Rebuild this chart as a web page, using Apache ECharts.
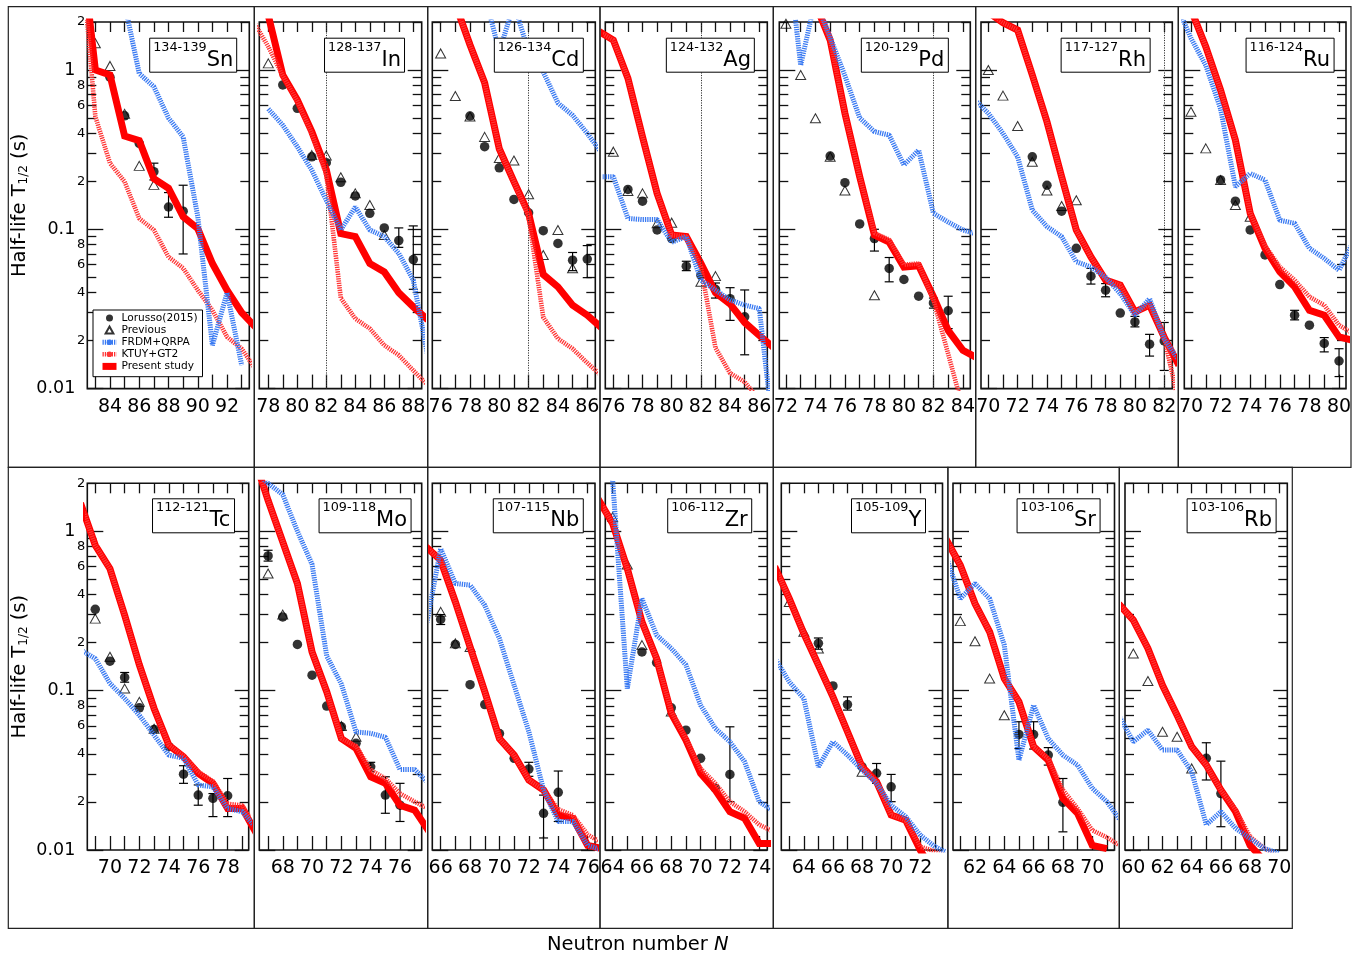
<!DOCTYPE html>
<html><head><meta charset="utf-8">
<script src="https://cdn.jsdelivr.net/npm/echarts@6/dist/echarts.min.js"></script>
<style>html,body{margin:0;padding:0;background:#fff}#c{width:1365px;height:958px}</style>
</head><body><div id="c"></div>
<script>
// ---------------- DATA ----------------
const NAME_LOR = 'Lorusso(2015)', NAME_PREV = 'Previous', NAME_FRDM = 'FRDM+QRPA', NAME_KTUY = 'KTUY+GT2', NAME_PRES = 'Present study';

// y-axis tick values (s)
const yMajorTicks = [0.01, 0.1, 1];
const yMinorTicks = [0.02,0.03,0.04,0.05,0.06,0.07,0.08,0.09,0.2,0.3,0.4,0.5,0.6,0.7,0.8,0.9,2];
const yLabelValues = [0.01,0.02,0.04,0.06,0.08,0.1,0.2,0.4,0.6,0.8,1,2];

// x tick labels per panel
const snLabels = [84,86,88,90,92];
const inLabels = [78,80,82,84,86,88];
const cdLabels = [76,78,80,82,84,86];
const agLabels = [76,78,80,82,84,86];
const pdLabels = [72,74,76,78,80,82,84];
const rhLabels = [70,72,74,76,78,80,82];
const ruLabels = [70,72,74,76,78,80];
const tcLabels = [70,72,74,76,78];
const moLabels = [68,70,72,74,76];
const nbLabels = [66,68,70,72,74,76];
const zrLabels = [64,66,68,70,72,74];
const yLabels = [64,66,68,70,72];
const srLabels = [62,64,66,68,70];
const rbLabels = [60,62,64,66,68,70];

// Sn
const snLorusso = [[84,0.90],[85,0.515],[86,0.346],[87,0.23],[88,0.138],[89,0.13]];
const snErr = [[87,0.204,0.26],[88,0.119,0.17],[89,0.07,0.189]];
const snPrevious = [[83,1.47],[84,1.06],[85,0.53],[86,0.25],[87,0.19]];
const snFRDM = [[84,5],[85,2.6],[86,0.95],[87,0.785],[88,0.50],[89,0.38],[90,0.12],[91,0.0187],[92,0.040],[93,0.014]];
const snKTUY = [[82,6],[83,0.51],[84,0.26],[85,0.199],[86,0.117],[87,0.099],[88,0.067],[89,0.057],[90,0.0415],[91,0.031],[92,0.0211],[93,0.0178],[94,0.013]];
const snPresent = [[82,6.5],[83,1.0],[84,0.93],[85,0.385],[86,0.36],[87,0.208],[88,0.181],[89,0.12],[90,0.101],[91,0.061],[92,0.0415],[93,0.03],[94,0.024]];
// In
const inLorusso = [[79,0.805],[80,0.574],[81,0.285],[82,0.262],[83,0.197],[84,0.162],[85,0.126],[86,0.102],[87,0.085],[88,0.0645]];
const inErr = [[87,0.077,0.102],[88,0.042,0.105]];
const inPrevious = [[78,1.1],[81,0.292],[82,0.29],[83,0.212],[84,0.168],[85,0.142],[86,0.092]];
const inFRDM = [[78,0.57],[79,0.45],[80,0.33],[81,0.235],[82,0.152],[83,0.099],[84,0.138],[85,0.099],[86,0.090],[87,0.0705],[88,0.048],[89,0.016]];
const inKTUY = [[77,2.0],[78,1.40],[79,0.92],[80,0.64],[81,0.40],[82,0.22],[83,0.037],[84,0.0275],[85,0.0238],[86,0.0187],[87,0.0162],[88,0.013],[89,0.0105]];
const inPresent = [[77,4],[78,2.2],[79,0.93],[80,0.65],[81,0.41],[82,0.236],[83,0.094],[84,0.09],[85,0.061],[86,0.054],[87,0.040],[88,0.0326],[89,0.027]];
// Cd
const cdLorusso = [[78,0.514],[79,0.33],[80,0.243],[81,0.154],[82,0.127],[83,0.098],[84,0.0815],[85,0.064],[86,0.065]];
const cdErr = [[85,0.055,0.0715],[86,0.0497,0.079]];
const cdPrevious = [[76,1.27],[77,0.687],[78,0.51],[79,0.38],[80,0.28],[81,0.27],[82,0.166],[83,0.069],[84,0.099],[85,0.057]];
const cdFRDM = [[78,6],[79,3.0],[80,1.3],[81,2.6],[82,1.3],[83,0.97],[84,0.62],[85,0.52],[86,0.40],[87,0.30]];
const cdKTUY = [[77,2.6],[78,1.44],[79,0.83],[80,0.32],[81,0.199],[82,0.12],[83,0.028],[84,0.0206],[85,0.0178],[86,0.0145],[87,0.012]];
const cdPresent = [[77,2.6],[78,1.44],[79,0.83],[80,0.32],[81,0.199],[82,0.126],[83,0.052],[84,0.0435],[85,0.0334],[86,0.0289],[87,0.024]];
// Ag
const agLorusso = [[77,0.178],[78,0.150],[79,0.099],[80,0.0875],[81,0.0587],[82,0.0515],[83,0.042],[84,0.0367],[85,0.0282]];
const agErr = [[81,0.055,0.063],[83,0.037,0.046],[84,0.0268,0.043],[85,0.0163,0.0416]];
const agPrevious = [[76,0.307],[77,0.174],[78,0.168],[79,0.109],[80,0.11],[82,0.0468],[83,0.0508]];
const agFRDM = [[75,0.214],[76,0.214],[77,0.117],[78,0.115],[79,0.115],[80,0.083],[81,0.09],[82,0.048],[83,0.0415],[84,0.036],[85,0.0334],[86,0.0318],[87,0.005]];
const agKTUY = [[75,1.75],[76,1.54],[77,0.887],[78,0.38],[79,0.168],[80,0.092],[81,0.09],[82,0.058],[83,0.018],[84,0.0125],[85,0.011],[86,0.0085]];
const agPresent = [[75,1.75],[76,1.54],[77,0.887],[78,0.38],[79,0.168],[80,0.092],[81,0.09],[82,0.061],[83,0.040],[84,0.034],[85,0.026],[86,0.0216],[87,0.018]];
// Pd
const pdLorusso = [[75,0.288],[76,0.196],[77,0.108],[78,0.0875],[79,0.0568],[80,0.0484],[81,0.038],[82,0.0345],[83,0.0308]];
const pdErr = [[78,0.073,0.10],[79,0.0468,0.0665],[82,0.032,0.037],[83,0.0238,0.038]];
const pdPrevious = [[72,1.95],[73,0.93],[74,0.497],[75,0.285],[76,0.175],[78,0.0385]];
const pdFRDM = [[72,7],[73,1.07],[74,2.8],[75,1.6],[76,0.92],[77,0.50],[78,0.41],[79,0.39],[80,0.253],[81,0.314],[82,0.126],[83,0.111],[84,0.099],[85,0.093]];
const pdKTUY = [[74,2.6],[75,1.54],[76,0.535],[77,0.214],[78,0.095],[79,0.086],[80,0.06],[81,0.061],[82,0.036],[83,0.0165],[84,0.0075]];
const pdPresent = [[74,2.6],[75,1.54],[76,0.535],[77,0.214],[78,0.092],[79,0.083],[80,0.058],[81,0.059],[82,0.0377],[83,0.0232],[84,0.0174],[85,0.0155]];
// Rh
const rhLorusso = [[73,0.285],[74,0.189],[75,0.13],[76,0.076],[77,0.0508],[78,0.0415],[79,0.0298],[80,0.0262],[81,0.019],[82,0.0199]];
const rhErr = [[77,0.0453,0.0568],[78,0.0377,0.0456],[80,0.0244,0.0284],[81,0.016,0.0219],[82,0.013,0.026]];
const rhPrevious = [[70,1.0],[71,0.69],[72,0.445],[73,0.265],[74,0.175],[75,0.14],[76,0.152]];
const rhFRDM = [[69,0.66],[70,0.535],[71,0.40],[72,0.285],[73,0.132],[74,0.104],[75,0.09],[76,0.0625],[77,0.058],[78,0.050],[79,0.0395],[80,0.0289],[81,0.0367],[82,0.0205],[83,0.015]];
const rhKTUY = [[70,2.3],[71,1.98],[72,1.78],[73,0.93],[74,0.473],[75,0.214],[76,0.099],[77,0.067],[78,0.048],[79,0.0446],[80,0.0303],[81,0.0334],[82,0.021],[83,0.008]];
const rhPresent = [[70,2.3],[71,1.98],[72,1.78],[73,0.93],[74,0.473],[75,0.214],[76,0.099],[77,0.067],[78,0.048],[79,0.0446],[80,0.0303],[81,0.0334],[82,0.021],[83,0.014]];
// Ru
const ruLorusso = [[72,0.204],[73,0.150],[74,0.099],[75,0.069],[76,0.045],[77,0.0289],[78,0.025],[79,0.0192],[80,0.0149]];
const ruErr = [[77,0.027,0.031],[79,0.017,0.0209],[80,0.0119,0.0178]];
const ruPrevious = [[70,0.547],[71,0.322],[72,0.204],[73,0.142],[74,0.12]];
const ruFRDM = [[69,2.6],[70,1.58],[71,1.07],[72,0.57],[73,0.185],[74,0.224],[75,0.204],[76,0.114],[77,0.109],[78,0.076],[79,0.0656],[80,0.0553],[81,0.085]];
const ruKTUY = [[70,2.4],[71,1.40],[72,0.748],[73,0.363],[74,0.126],[75,0.079],[76,0.058],[77,0.048],[78,0.0377],[79,0.0334],[80,0.025],[81,0.022]];
const ruPresent = [[70,2.4],[71,1.40],[72,0.748],[73,0.363],[74,0.126],[75,0.076],[76,0.054],[77,0.0435],[78,0.031],[79,0.0289],[80,0.0211],[81,0.020]];
// Tc
const tcLorusso = [[69,0.324],[70,0.153],[71,0.121],[72,0.078],[73,0.0571],[74,0.0445],[75,0.0299],[76,0.0221],[77,0.0211],[78,0.0219]];
const tcErr = [[71,0.113,0.13],[75,0.0262,0.0338],[76,0.0191,0.0256],[77,0.0162,0.0226],[78,0.0162,0.0281]];
const tcPrevious = [[69,0.283],[70,0.163],[71,0.103],[72,0.085],[73,0.0577]];
const tcFRDM = [[68,0.18],[69,0.159],[70,0.111],[71,0.0893],[72,0.070],[73,0.0526],[74,0.0394],[75,0.0376],[76,0.0256],[77,0.0249],[78,0.0182],[79,0.0174],[80,0.0135]];
const tcKTUY = [[68,1.5],[69,0.817],[70,0.583],[71,0.297],[72,0.145],[73,0.0773],[74,0.0455],[75,0.039],[76,0.031],[77,0.027],[78,0.0195],[79,0.019],[80,0.0135]];
const tcPresent = [[68,1.5],[69,0.817],[70,0.583],[71,0.297],[72,0.145],[73,0.0773],[74,0.0455],[75,0.0385],[76,0.0303],[77,0.0262],[78,0.0182],[79,0.0182],[80,0.0125]];
// Mo
const moLorusso = [[67,0.70],[68,0.29],[69,0.195],[70,0.125],[71,0.080],[72,0.0593],[73,0.0467],[74,0.0333],[75,0.0221],[76,0.0191]];
const moErr = [[67,0.65,0.76],[74,0.031,0.0355],[75,0.017,0.0288],[76,0.0151,0.0262]];
const moPrevious = [[67,0.543],[68,0.30],[72,0.06],[73,0.0514]];
const moFRDM = [[66,2.4],[67,2.0],[68,1.7],[69,1.0],[70,0.62],[71,0.165],[72,0.11],[73,0.055],[74,0.054],[75,0.051],[76,0.032],[77,0.032],[78,0.026]];
const moKTUY = [[66,3.0],[67,1.56],[68,0.857],[69,0.47],[70,0.175],[71,0.0985],[72,0.050],[73,0.045],[74,0.0318],[75,0.0281],[76,0.0226],[77,0.0201],[78,0.018]];
const moPresent = [[66,3.0],[67,1.56],[68,0.857],[69,0.47],[70,0.175],[71,0.0985],[72,0.050],[73,0.0434],[74,0.0288],[75,0.0262],[76,0.0191],[77,0.0178],[78,0.013]];
// Nb
const nbLorusso = [[66,0.28],[67,0.195],[68,0.109],[69,0.0818],[70,0.0538],[71,0.0376],[72,0.0322],[73,0.017],[74,0.023]];
const nbErr = [[66,0.26,0.30],[72,0.029,0.0355],[73,0.0119,0.0221],[74,0.0151,0.0313]];
const nbPrevious = [[66,0.312],[67,0.198],[68,0.188]];
const nbFRDM = [[65,0.25],[66,0.778],[67,0.47],[68,0.46],[69,0.343],[70,0.212],[71,0.108],[72,0.0552],[73,0.0238],[74,0.0151],[75,0.0151],[76,0.0107],[77,0.01]];
const nbKTUY = [[65,0.80],[66,0.658],[67,0.36],[68,0.188],[69,0.0985],[70,0.050],[71,0.0394],[72,0.0275],[73,0.0238],[74,0.018],[75,0.0165],[76,0.0125],[77,0.011]];
const nbPresent = [[65,0.80],[66,0.658],[67,0.36],[68,0.188],[69,0.0985],[70,0.050],[71,0.0394],[72,0.0275],[73,0.0238],[74,0.0166],[75,0.0158],[76,0.0107],[77,0.0102]];
// Zr
const zrLorusso = [[66,0.175],[67,0.150],[68,0.078],[69,0.0565],[70,0.0376],[71,0.0244],[72,0.0298]];
const zrErr = [[72,0.0201,0.0593]];
const zrPrevious = [[64,1.23],[65,0.618],[66,0.193],[68,0.074]];
const zrFRDM = [[63,3],[64,2.1],[65,0.103],[66,0.378],[67,0.223],[68,0.184],[69,0.145],[70,0.081],[71,0.058],[72,0.0478],[73,0.0358],[74,0.0201],[75,0.0175]];
const zrKTUY = [[63,1.6],[64,1.12],[65,0.583],[66,0.27],[67,0.159],[68,0.074],[69,0.05],[70,0.0325],[71,0.0262],[72,0.0201],[73,0.0174],[74,0.0144],[75,0.013]];
const zrPresent = [[63,1.6],[64,1.12],[65,0.583],[66,0.27],[67,0.159],[68,0.072],[69,0.049],[70,0.0303],[71,0.0238],[72,0.0174],[73,0.0158],[74,0.011],[75,0.011]];
// Y
const yLorusso = [[65,0.198],[66,0.107],[67,0.0818],[68,0.0333],[69,0.0303],[70,0.0249]];
const yErr = [[65,0.182,0.214],[67,0.0755,0.0914],[69,0.0262,0.0349],[70,0.0201,0.0298]];
const yPrevious = [[63,0.36],[64,0.234],[65,0.184],[68,0.031]];
const yFRDM = [[62,0.16],[63,0.1135],[64,0.0893],[65,0.0333],[66,0.0478],[67,0.0394],[68,0.0318],[69,0.0262],[70,0.0191],[71,0.0162],[72,0.0124],[73,0.0105],[74,0.0095]];
const yKTUY = [[62,0.6],[63,0.378],[64,0.228],[65,0.145],[66,0.0914],[67,0.0552],[68,0.0333],[69,0.0268],[70,0.0166],[71,0.0154],[72,0.0105],[73,0.0098],[74,0.009]];
const yPresent = [[62,0.6],[63,0.378],[64,0.228],[65,0.145],[66,0.0914],[67,0.0552],[68,0.0333],[69,0.0268],[70,0.0166],[71,0.0154],[72,0.0100],[73,0.007]];
// Sr
const srLorusso = [[65,0.0531],[66,0.053],[67,0.0394],[68,0.0199]];
const srErr = [[65,0.0433,0.0638],[66,0.043,0.0638],[67,0.0341,0.0439],[68,0.013,0.0281]];
const srPrevious = [[61,0.273],[62,0.204],[63,0.119],[64,0.070]];
const srFRDM = [[60,0.71],[61,0.378],[62,0.47],[63,0.378],[64,0.193],[65,0.0366],[66,0.081],[67,0.050],[68,0.0394],[69,0.0341],[70,0.0244],[71,0.0201],[72,0.015]];
const srKTUY = [[60,0.9],[61,0.612],[62,0.352],[63,0.234],[64,0.119],[65,0.0851],[66,0.0445],[67,0.0375],[68,0.0238],[69,0.0182],[70,0.0133],[71,0.012],[72,0.0105]];
const srPresent = [[60,0.9],[61,0.612],[62,0.352],[63,0.234],[64,0.119],[65,0.0851],[66,0.0445],[67,0.0366],[68,0.0211],[69,0.017],[70,0.0107],[71,0.0102]];
// Rb
const rbLorusso = [[65,0.0376],[66,0.0226]];
const rbErr = [[65,0.0275,0.0471],[66,0.014,0.0361]];
const rbPrevious = [[60,0.171],[61,0.115],[62,0.0552],[63,0.0514],[64,0.0325]];
const rbFRDM = [[59,0.07],[60,0.0478],[61,0.0565],[62,0.0424],[63,0.0424],[64,0.031],[65,0.0144],[66,0.0174],[67,0.0137],[68,0.0118],[69,0.0102],[70,0.0095]];
const rbKTUY = [[59,0.35],[60,0.277],[61,0.184],[62,0.108],[63,0.070],[64,0.0445],[65,0.0341],[66,0.0238],[67,0.018],[68,0.0121],[69,0.0102],[70,0.009]];
const rbPresent = [[59,0.35],[60,0.277],[61,0.184],[62,0.108],[63,0.070],[64,0.0445],[65,0.0341],[66,0.0238],[67,0.0174],[68,0.0107],[69,0.0085]];

const panels = [
  {iso:'134-139', el:'Sn', labels:snLabels, lor:snLorusso, err:snErr, prev:snPrevious, frdm:snFRDM, ktuy:snKTUY, pres:snPresent, n82:false},
  {iso:'128-137', el:'In', labels:inLabels, lor:inLorusso, err:inErr, prev:inPrevious, frdm:inFRDM, ktuy:inKTUY, pres:inPresent, n82:true},
  {iso:'126-134', el:'Cd', labels:cdLabels, lor:cdLorusso, err:cdErr, prev:cdPrevious, frdm:cdFRDM, ktuy:cdKTUY, pres:cdPresent, n82:true},
  {iso:'124-132', el:'Ag', labels:agLabels, lor:agLorusso, err:agErr, prev:agPrevious, frdm:agFRDM, ktuy:agKTUY, pres:agPresent, n82:true},
  {iso:'120-129', el:'Pd', labels:pdLabels, lor:pdLorusso, err:pdErr, prev:pdPrevious, frdm:pdFRDM, ktuy:pdKTUY, pres:pdPresent, n82:true},
  {iso:'117-127', el:'Rh', labels:rhLabels, lor:rhLorusso, err:rhErr, prev:rhPrevious, frdm:rhFRDM, ktuy:rhKTUY, pres:rhPresent, n82:true},
  {iso:'116-124', el:'Ru', labels:ruLabels, lor:ruLorusso, err:ruErr, prev:ruPrevious, frdm:ruFRDM, ktuy:ruKTUY, pres:ruPresent, n82:false},
  {iso:'112-121', el:'Tc', labels:tcLabels, lor:tcLorusso, err:tcErr, prev:tcPrevious, frdm:tcFRDM, ktuy:tcKTUY, pres:tcPresent, n82:false},
  {iso:'109-118', el:'Mo', labels:moLabels, lor:moLorusso, err:moErr, prev:moPrevious, frdm:moFRDM, ktuy:moKTUY, pres:moPresent, n82:false},
  {iso:'107-115', el:'Nb', labels:nbLabels, lor:nbLorusso, err:nbErr, prev:nbPrevious, frdm:nbFRDM, ktuy:nbKTUY, pres:nbPresent, n82:false},
  {iso:'106-112', el:'Zr', labels:zrLabels, lor:zrLorusso, err:zrErr, prev:zrPrevious, frdm:zrFRDM, ktuy:zrKTUY, pres:zrPresent, n82:false},
  {iso:'105-109', el:'Y',  labels:yLabels,  lor:yLorusso,  err:yErr,  prev:yPrevious,  frdm:yFRDM,  ktuy:yKTUY,  pres:yPresent,  n82:false},
  {iso:'103-106', el:'Sr', labels:srLabels, lor:srLorusso, err:srErr, prev:srPrevious, frdm:srFRDM, ktuy:srKTUY, pres:srPresent, n82:false},
  {iso:'103-106', el:'Rb', labels:rbLabels, lor:rbLorusso, err:rbErr, prev:rbPrevious, frdm:rbFRDM, ktuy:rbKTUY, pres:rbPresent, n82:false}
];

// ---------------- LAYOUT ----------------
const TOP1 = 22, H1 = 366.6, TOP2 = 483.3, H2 = 366.7;
const layout = [
  {left:87.3,  width:162.0, top:TOP1, height:H1, min:82.45, max:93.52, boxRight:237.3, boxTop:37.7, yName:true},
  {left:259.3, width:162.4, top:TOP1, height:H1, min:77.38, max:88.58, boxRight:405.0, boxTop:37.7},
  {left:432.3, width:163.0, top:TOP1, height:H1, min:75.43, max:86.55, boxRight:583.3, boxTop:37.7},
  {left:605.3, width:162.0, top:TOP1, height:H1, min:75.45, max:86.55, boxRight:755.0, boxTop:37.7},
  {left:779.3, width:191.0, top:TOP1, height:H1, min:71.55, max:84.50, boxRight:948.3, boxTop:37.7},
  {left:981.0, width:191.3, top:TOP1, height:H1, min:69.50, max:82.55, boxRight:1150.0, boxTop:37.7},
  {left:1184.3,width:161.7, top:TOP1, height:H1, min:69.55, max:80.47, boxRight:1334.0, boxTop:37.7},
  {left:87.3,  width:161.4, top:TOP2, height:H2, min:68.46, max:79.43, boxRight:234.3, boxTop:498.3, yName:true},
  {left:259.3, width:162.4, top:TOP2, height:H2, min:66.40, max:77.48, boxRight:411.0, boxTop:498.3},
  {left:432.3, width:162.7, top:TOP2, height:H2, min:65.43, max:76.50, boxRight:583.3, boxTop:498.3},
  {left:605.3, width:162.0, top:TOP2, height:H2, min:63.50, max:74.55, boxRight:751.7, boxTop:498.3},
  {left:781.3, width:161.2, top:TOP2, height:H2, min:62.45, max:73.53, boxRight:925.3, boxTop:498.3},
  {left:953.0, width:161.5, top:TOP2, height:H2, min:60.50, max:71.52, boxRight:1100.0, boxTop:498.3},
  {left:1125.0,width:162.3, top:TOP2, height:H2, min:59.43, max:70.55, boxRight:1276.0, boxTop:498.3}
];
const outerBoxes = [
  [8.3,6.7,246,460.6],[254.3,6.7,173.4,460.6],[427.7,6.7,172.3,460.6],[600,6.7,173.3,460.6],[773.3,6.7,202.4,460.6],[975.7,6.7,202.6,460.6],[1178.3,6.7,172.7,460.6],
  [8.3,467.3,246,461],[254.3,467.3,173.4,461],[427.7,467.3,172.3,461],[600,467.3,173.3,461],[773.3,467.3,174.6,461],[947.9,467.3,171.4,461],[1119.3,467.3,173,461]
];

const FONT = 'DejaVu Sans, Liberation Sans, Arial, sans-serif';
const TICK = {color:'#111', width:1.3};
const BLUE = '#3a7af2', PINK = '#ff3434', RED = '#ff0000';
const TRI_ICON = 'path://M5,0L10,9L0,9Z';

function range(a, b){ const r=[]; for(let v=a; v<=b; v++) r.push(v); return r; }
function yFmt(v){
  const e = Math.floor(Math.log10(v) + 1e-9);
  const m = Math.round(v / Math.pow(10, e));
  if (m === 1) return '{big|' + (e === 0 ? '1' : (e === -1 ? '0.1' : '0.01')) + '}';
  return '{small|' + m + '}';
}
function errItem(params, api){
  const x = api.value(0);
  const lo = api.coord([x, api.value(1)]);
  const hi = api.coord([x, api.value(2)]);
  const w = 4.5, st = {stroke:'#000', lineWidth:1.2};
  return {type:'group', children:[
    {type:'line', shape:{x1:lo[0], y1:lo[1], x2:hi[0], y2:hi[1]}, style:st},
    {type:'line', shape:{x1:lo[0]-w, y1:lo[1], x2:lo[0]+w, y2:lo[1]}, style:st},
    {type:'line', shape:{x1:hi[0]-w, y1:hi[1], x2:hi[0]+w, y2:hi[1]}, style:st}
  ]};
}

const option = {
  animation:false, backgroundColor:'#fff',
  grid:[], xAxis:[], yAxis:[], series:[], title:[],
  legend:{
    left:93, top:310, orient:'vertical', z:10, selectedMode:false, symbolKeepAspect:true,
    itemWidth:14, itemHeight:7, itemGap:0.1, padding:[2,5,4.3,6],
    borderColor:'#000', borderWidth:1, backgroundColor:'#fff',
    textStyle:{fontFamily:FONT, fontSize:10.6, color:'#000', lineHeight:12, fontWeight:'normal'},
    lineStyle:{width:'inherit'},
    data:[NAME_LOR, {name:NAME_PREV, icon:TRI_ICON}, NAME_FRDM, NAME_KTUY, NAME_PRES]
  },
  graphic:{elements: outerBoxes.map(b => ({type:'rect', silent:true, z:0,
    shape:{x:b[0], y:b[1], width:b[2], height:b[3]}, style:{fill:'none', stroke:'#222', lineWidth:1.2}}))}
};

panels.forEach((p, i) => {
  const L = layout[i];
  option.grid.push({left:L.left, top:L.top, width:L.width, height:L.height, show:true,
    borderColor:'#111', borderWidth:1.6, backgroundColor:'transparent', containLabel:false, outerBoundsMode:'none'});
  const ticks = range(Math.ceil(L.min), Math.floor(L.max));
  const xBase = {gridIndex:i, type:'value', min:L.min, max:L.max, splitLine:{show:false}, axisLine:{show:false}, silent:true};
  option.xAxis.push(Object.assign({}, xBase, {position:'bottom',
    axisTick:{inside:true, length:14, customValues:ticks, lineStyle:TICK},
    axisLabel:{customValues:p.labels, fontFamily:FONT, fontSize:19, color:'#000', margin:9}}));
  option.xAxis.push(Object.assign({}, xBase, {position:'top',
    axisTick:{inside:true, length:10, customValues:ticks, lineStyle:TICK}, axisLabel:{show:false}}));
  const yBase = {gridIndex:i, type:'log', logBase:10, min:0.01, max:2, splitLine:{show:false}, axisLine:{show:false}, silent:true};
  const leftMajor = Object.assign({}, yBase, {position:'left',
    axisTick:{inside:true, length:16, customValues:yMajorTicks, lineStyle:TICK},
    axisLabel: L.yName ? {customValues:yLabelValues, formatter:yFmt, margin:2, color:'#000', fontFamily:FONT,
      rich:{big:{fontSize:17.5, fontFamily:FONT, color:'#000', padding:[0,10,0,0]}, small:{fontSize:13, fontFamily:FONT, color:'#000'}}} : {show:false}});
  if (L.yName) {
    Object.assign(leftMajor, {name:'{m|Half-life T}{s|1/2}{m| (s)}', nameLocation:'middle', nameGap:57, nameRotate:90,
      nameTextStyle:{fontFamily:FONT, fontSize:19.5, color:'#000',
        rich:{m:{fontSize:19.5, fontFamily:FONT, color:'#000', verticalAlign:'bottom'}, s:{fontSize:12, fontFamily:FONT, color:'#000', verticalAlign:'bottom'}}}});
  }
  option.yAxis.push(leftMajor);
  option.yAxis.push(Object.assign({}, yBase, {position:'left', axisTick:{inside:true, length:9, customValues:yMinorTicks, lineStyle:TICK}, axisLabel:{show:false}}));
  option.yAxis.push(Object.assign({}, yBase, {position:'right', axisTick:{inside:true, length:14, customValues:yMajorTicks, lineStyle:TICK}, axisLabel:{show:false}}));
  option.yAxis.push(Object.assign({}, yBase, {position:'right', axisTick:{inside:true, length:9, customValues:yMinorTicks, lineStyle:TICK}, axisLabel:{show:false}}));

  const xi = 2*i, yi = 4*i;
  const prevSeries = {type:'scatter', name:NAME_PREV, xAxisIndex:xi, yAxisIndex:yi, data:p.prev, silent:true, z:2,
    symbol:'triangle', symbolSize:[10,9], itemStyle:{color:'rgba(255,255,255,0)', borderColor:'#000', borderWidth:1}};
  if (p.n82) {
    prevSeries.markLine = {silent:true, symbol:'none', label:{show:false}, animation:false,
      lineStyle:{color:'#333', width:1, type:[1.2,1.3]}, data:[{xAxis:82}]};
  }
  option.series.push(prevSeries);
  option.series.push({type:'scatter', name:NAME_LOR, xAxisIndex:xi, yAxisIndex:yi, data:p.lor, silent:true, z:3,
    symbol:'circle', symbolSize:9.5, itemStyle:{color:'#000'}});
  option.series.push({type:'custom', name:'err', xAxisIndex:xi, yAxisIndex:yi, data:p.err, silent:true, z:3,
    renderItem:errItem, dimensions:['n','lo','hi'], encode:{x:0, y:[1,2]}});
  option.series.push({type:'line', name:NAME_PRES, xAxisIndex:xi, yAxisIndex:yi, data:p.pres, silent:true, z:4,
    symbol:'none', clip:true, lineStyle:{color:RED, width:7, cap:'butt', join:'miter'}, itemStyle:{color:RED}});
  option.series.push({type:'line', name:NAME_KTUY, xAxisIndex:xi, yAxisIndex:yi, data:p.ktuy, silent:true, z:5,
    symbol:'none', clip:true, lineStyle:{color:PINK, width:4.6, type:[1.3,1], cap:'butt'}, itemStyle:{color:PINK}});
  option.series.push({type:'line', name:NAME_FRDM, xAxisIndex:xi, yAxisIndex:yi, data:p.frdm, silent:true, z:6,
    symbol:'none', clip:true, lineStyle:{color:BLUE, width:5, type:[1.3,1], cap:'butt'}, itemStyle:{color:BLUE}});

  option.title.push({text:'{sup|' + p.iso + '}{el|' + p.el + '}', right:1365 - L.boxRight, top:L.boxTop, z:10,
    padding:[3,4,2,4], borderColor:'#000', borderWidth:1, backgroundColor:'#fff',
    textStyle:{fontFamily:FONT, color:'#000', fontWeight:'normal', rich:{
      sup:{fontSize:12.8, fontFamily:FONT, color:'#000', fontWeight:'normal', lineHeight:14, verticalAlign:'top'},
      el:{fontSize:21, fontFamily:FONT, color:'#000', fontWeight:'normal', lineHeight:30, verticalAlign:'bottom'}}}});
});
option.title.push({text:'{a|Neutron number }{b|N}', left:547, top:935, padding:0, z:10,
  textStyle:{fontFamily:FONT, color:'#000', fontWeight:'normal', rich:{
    a:{fontSize:19.5, fontFamily:FONT, color:'#000', fontWeight:'normal'},
    b:{fontSize:19.5, fontFamily:FONT, color:'#000', fontWeight:'normal', fontStyle:'italic'}}}});

const chart = echarts.init(document.getElementById('c'), null, {renderer:'canvas'});
chart.setOption(option);
</script></body></html>
